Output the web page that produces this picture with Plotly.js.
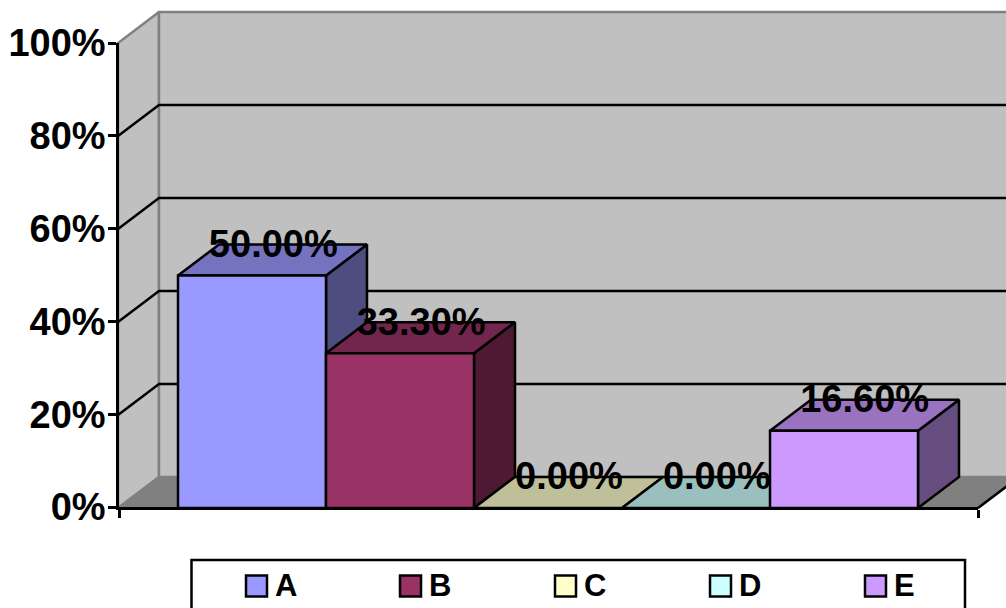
<!DOCTYPE html>
<html>
<head>
<meta charset="utf-8">
<script src="https://cdn.plot.ly/plotly-3.0.1.min.js"></script>
<style>html,body{margin:0;padding:0;background:#fff;overflow:hidden}</style>
</head>
<body>
<div id="chart" style="width:1006px;height:608px"></div>
<script>
var categories = ["A", "B", "C", "D", "E"];
var values = [50, 33.3, 0, 0, 16.6];
var valueLabels = ["50.00%", "33.30%", "0.00%", "0.00%", "16.60%"];
var tickValues = [0, 20, 40, 60, 80, 100];
var tickLabels = ["0%", "20%", "40%", "60%", "80%", "100%"];
var frontColors = ["#9999FF", "#993366", "#FFFFCC", "#CCFFFF", "#CC99FF"];
var topColors = ["#7373BF", "#73264D", "#BFBF99", "#99BFBF", "#9973BF"];
var sideColors = ["#4D4D80", "#4D1933", "#808066", "#668080", "#664D80"];
var legendSwatchLeft = [246, 400, 555, 710, 865];

var FONT = '"Liberation Sans", Arial, sans-serif';
var W = 1006, H = 608;
var PX = {l: 118, r: 978, t: 43, b: 508};
var unitX = 148, unitY = (PX.b - PX.t) / 100;
var dx = 41 / unitX, dy = 31 / unitY;
var xMin = -60 / unitX, xMax = categories.length + 60 / unitX;
var pageX = [xMin - PX.l / unitX, xMax + (W - PX.r) / unitX];
var pageY = [-(H - PX.b) / unitY, 100 + PX.t / unitY];

function poly(xs, ys, fill, lineColor, width) {
  return {type: "scatter", mode: "lines", x: xs, y: ys, fill: "toself", fillcolor: fill,
    line: {color: lineColor, width: width, simplify: false}, cliponaxis: false,
    hoverinfo: "skip", showlegend: false};
}
function path(xs, ys, color, width) {
  return {type: "scatter", mode: "lines", x: xs, y: ys,
    line: {color: color, width: width, simplify: false}, cliponaxis: false,
    hoverinfo: "skip", showlegend: false};
}

var traces = [];
// side wall, back wall, floor (drawn on the full-page axes so nothing is clipped)
traces.push(poly([xMin, xMin + dx, xMin + dx, xMin, xMin], [0, dy, 100 + dy, 100, 0], "#C0C0C0", "#808080", 2.5));
traces.push(poly([xMin + dx, xMax + dx, xMax + dx, xMin + dx, xMin + dx], [dy, dy, 100 + dy, 100 + dy, dy], "#C0C0C0", "#808080", 2.5));
traces.push(poly([xMin, xMax, xMax + dx, xMin + dx, xMin], [0, 0, dy, dy, 0], "#808080", "#808080", 2));
traces.push(path([xMax, xMax + dx], [0, dy], "#000000", 2.5));
// gridlines
tickValues.slice(1, -1).forEach(function (t) {
  traces.push(path([xMin, xMin + dx, xMax + dx], [t, t + dy, t + dy], "#000000", 2.5));
});
// bars
values.forEach(function (v, i) {
  var a = i, b = i + 1;
  traces.push(poly([b, b + dx, b + dx, b, b], [0, dy, v + dy, v, 0], sideColors[i], "#000000", 2.5));
  traces.push(poly([a, b, b + dx, a + dx, a], [v, v, v + dy, v + dy, v], topColors[i], "#000000", 2.5));
  if (v > 0) traces.push(poly([a, b, b, a, a], [0, 0, v, v, 0], frontColors[i], "#000000", 2.5));
});
// value labels, on the visible axes
var labelDrop = 3.5 / unitY;
traces.push({type: "scatter", mode: "text", xaxis: "x2", yaxis: "y2", cliponaxis: false, hoverinfo: "skip", showlegend: false,
  x: values.map(function (v, i) { return i + 0.5 + dx / 2; }),
  y: values.map(function (v) { return v + dy - labelDrop; }),
  text: valueLabels, textposition: "middle center",
  textfont: {family: FONT, size: 38, color: "#000000", weight: "bold"}});

function px2x(p) { return p / W; }
function px2y(p) { return 1 - p / H; }
var shapes = [{type: "rect", xref: "paper", yref: "paper", x0: px2x(191.5), x1: px2x(965), y0: px2y(560), y1: px2y(625),
  line: {color: "#000000", width: 2.5}, fillcolor: "#FFFFFF"}];
var annotations = [];
categories.forEach(function (c, i) {
  var s = legendSwatchLeft[i];
  shapes.push({type: "rect", xref: "paper", yref: "paper", x0: px2x(s), x1: px2x(s + 21), y0: px2y(575.5), y1: px2y(596.5),
    line: {color: "#000000", width: 2.5}, fillcolor: frontColors[i]});
  annotations.push({xref: "paper", yref: "paper", x: px2x(s + 28), y: px2y(585.5), xanchor: "left", yanchor: "middle",
    showarrow: false, text: c, borderpad: 0, font: {family: FONT, size: 31, color: "#000000", weight: "bold"}});
});

var layout = {
  width: W, height: H, showlegend: false, hovermode: false,
  paper_bgcolor: "#FFFFFF", plot_bgcolor: "rgba(0,0,0,0)",
  margin: {l: 0, r: 0, t: 0, b: 0, pad: 0},
  xaxis: {domain: [0, 1], range: pageX, visible: false, fixedrange: true},
  yaxis: {domain: [0, 1], range: pageY, visible: false, fixedrange: true},
  xaxis2: {domain: [(PX.l + 1) / W, PX.r / W], anchor: "y2", range: [xMin, xMax], tickmode: "array", tickvals: [xMin, xMax], ticktext: ["", ""],
    ticks: "outside", ticklen: 8, tickwidth: 2.5, tickcolor: "#000000", showgrid: false, zeroline: false,
    showline: true, linecolor: "#000000", linewidth: 3, fixedrange: true},
  yaxis2: {domain: [1 - (PX.b - 1) / H, 1 - PX.t / H], anchor: "x2", range: [0, 100], tickmode: "array", tickvals: tickValues, ticktext: tickLabels,
    ticks: "outside", ticklen: 8, tickwidth: 2.5, tickcolor: "#000000", showgrid: false, zeroline: false,
    showline: true, linecolor: "#000000", linewidth: 2.5, ticklabelstandoff: -5,
    tickfont: {family: FONT, size: 38, color: "#000000", weight: "bold"}, fixedrange: true},
  shapes: shapes, annotations: annotations
};
Plotly.newPlot("chart", traces, layout, {displayModeBar: false, responsive: false});
</script>
</body>
</html>
